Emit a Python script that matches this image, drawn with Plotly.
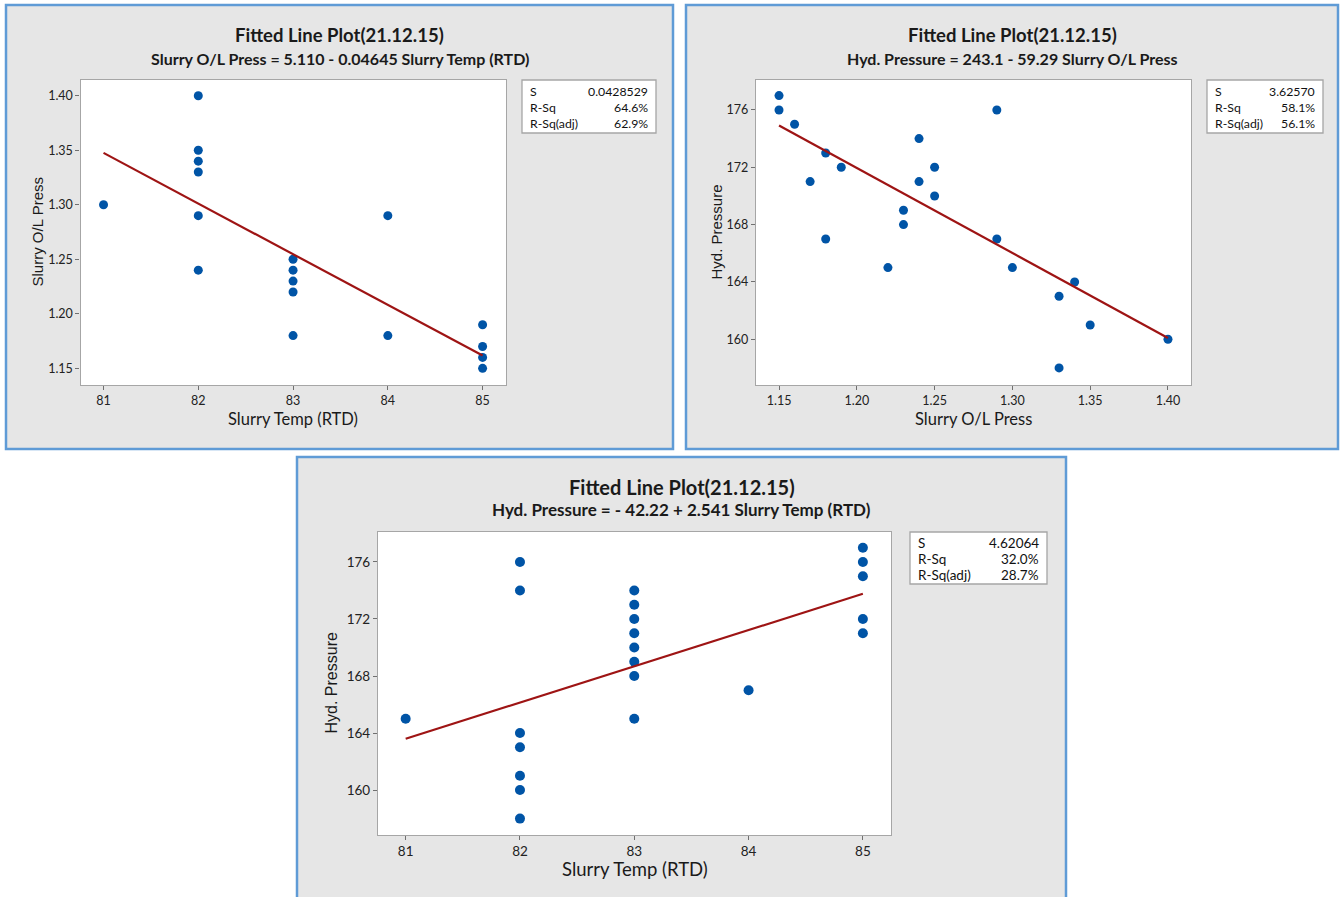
import plotly.graph_objects as go
import numpy as np

W, H = 1340, 897

# ---------------- data ----------------
# Panel 1: Slurry Temp (RTD) vs Slurry O/L Press
temp_a = [81, 82, 82, 82, 82, 82, 82, 83, 83, 83, 83, 83, 84, 84, 85, 85, 85, 85]
press_a = [1.30, 1.40, 1.35, 1.34, 1.33, 1.29, 1.24, 1.25, 1.24, 1.23, 1.22, 1.18,
           1.29, 1.18, 1.19, 1.17, 1.16, 1.15]
fit_a = (5.110, -0.04645)
stats_a = ["0.0428529", "64.6%", "62.9%"]
title_a = "Fitted Line Plot(21.12.15)"
sub_a = "Slurry O/L Press = 5.110 - 0.04645 Slurry Temp (RTD)"

# Panel 2: Slurry O/L Press vs Hyd. Pressure
press_b = [1.15, 1.15, 1.16, 1.17, 1.18, 1.18, 1.19, 1.22, 1.23, 1.23, 1.24, 1.24,
           1.25, 1.25, 1.29, 1.29, 1.30, 1.33, 1.33, 1.34, 1.35, 1.40]
hyd_b = [177, 176, 175, 171, 173, 167, 172, 165, 169, 168, 174, 171,
         172, 170, 176, 167, 165, 163, 158, 164, 161, 160]
fit_b = (243.1, -59.29)
stats_b = ["3.62570", "58.1%", "56.1%"]
title_b = "Fitted Line Plot(21.12.15)"
sub_b = "Hyd. Pressure = 243.1 - 59.29 Slurry O/L Press"

# Panel 3: Slurry Temp (RTD) vs Hyd. Pressure
temp_c = [81, 82, 82, 82, 82, 82, 82, 82, 83, 83, 83, 83, 83, 83, 83, 83,
          84, 85, 85, 85, 85, 85]
hyd_c = [165, 176, 174, 164, 163, 161, 160, 158, 174, 173, 172, 171, 170, 169, 168, 165,
         167, 177, 176, 175, 172, 171]
fit_c = (-42.22, 2.541)
stats_c = ["4.62064", "32.0%", "28.7%"]
title_c = "Fitted Line Plot(21.12.15)"
sub_c = "Hyd. Pressure = - 42.22 + 2.541 Slurry Temp (RTD)"

stat_names = ["S", "R-Sq", "R-Sq(adj)"]
temp_ticks = [81, 82, 83, 84, 85]
press_ticks = [1.15, 1.20, 1.25, 1.30, 1.35, 1.40]
hyd_ticks = [160, 164, 168, 172, 176]

# ---------------- layout helpers ----------------
FONT = "Lato"
BLUE = "#0054a6"
RED = "#9e1414"
PANEL_BG = "#e6e6e6"
BORDER = "#5f9bd6"
GRID = "#a6a6a6"

def px(x):
    return x / W

def py(y):
    return 1 - y / H

panels = [
    dict(x=temp_a, y=press_a, fit=fit_a, stats=stats_a, title=title_a, sub=sub_a,
         xlab="Slurry Temp (RTD)", ylab="Slurry O/L Press",
         xticks=temp_ticks, yticks=press_ticks, xfmt=None, yfmt=".2f",
         box=(6, 5, 673, 449), plot=(80.5, 80, 506, 385), sbox=(522, 80, 656, 133),
         ty=35, sy=59, xty=419, ytx=37, xr=[80.757, 85.247], yr=[1.1347, 1.4144],
         tfs=18.5, sfs=16, afs=16.5, yafs=15, kfs=12.5, sts=12.3, ms=9),
    dict(x=press_b, y=hyd_b, fit=fit_b, stats=stats_b, title=title_b, sub=sub_b,
         xlab="Slurry O/L Press", ylab="Hyd. Pressure",
         xticks=press_ticks, yticks=hyd_ticks, xfmt=".2f", yfmt=None,
         box=(686, 5, 1338, 449), plot=(756, 80, 1191, 385), sbox=(1207, 80, 1323, 133),
         ty=35, sy=59, xty=419, ytx=716, xr=[1.1352, 1.4148], yr=[156.81, 178.09],
         tfs=18.5, sfs=16, afs=16.5, yafs=15, kfs=12.5, sts=12.3, ms=9),
    dict(x=temp_c, y=hyd_c, fit=fit_c, stats=stats_c, title=title_c, sub=sub_c,
         xlab="Slurry Temp (RTD)", ylab="Hyd. Pressure",
         xticks=temp_ticks, yticks=hyd_ticks, xfmt=None, yfmt=None,
         box=(297, 457, 1066, 905), plot=(378, 532, 891, 835), sbox=(910, 532, 1047, 584),
         ty=487, sy=509, xty=869, ytx=331, xr=[80.758, 85.246], yr=[156.85, 178.1],
         tfs=20, sfs=17, afs=18.5, yafs=16, kfs=13.5, sts=13.5, ms=10),
]

fig = go.Figure()
shapes = []
annotations = []

for i, p in enumerate(panels, start=1):
    sfx = "" if i == 1 else str(i)
    L, T, R, B = p["plot"]
    fig.add_trace(go.Scatter(
        x=p["x"], y=p["y"], mode="markers",
        marker=dict(color=BLUE, size=p["ms"], line=dict(width=0)),
        xaxis="x" + sfx, yaxis="y" + sfx, showlegend=False, hoverinfo="x+y"))
    xs = np.array([min(p["x"]), max(p["x"])], dtype=float)
    b0, b1 = p["fit"]
    fig.add_trace(go.Scatter(
        x=xs, y=b0 + b1 * xs, mode="lines",
        line=dict(color=RED, width=2.2),
        xaxis="x" + sfx, yaxis="y" + sfx, showlegend=False, hoverinfo="skip"))

    axcommon = dict(showgrid=False, zeroline=False, showline=True, mirror=True,
                    linecolor=GRID, linewidth=1.3, ticks="outside", ticklen=4,
                    tickcolor="#707070", tickwidth=1,
                    tickfont=dict(family=FONT, size=p["kfs"], color="#222222"))
    fig.update_layout(**{
        "xaxis" + sfx: dict(domain=[px(L), px(R)], range=p["xr"], tickvals=p["xticks"],
                            tickformat=p["xfmt"], anchor="y" + sfx, **axcommon),
        "yaxis" + sfx: dict(domain=[py(B), py(T)], range=p["yr"], tickvals=p["yticks"],
                            tickformat=p["yfmt"], anchor="x" + sfx, **axcommon),
    })

    bx0, by0, bx1, by1 = p["box"]
    shapes.append(dict(type="rect", xref="paper", yref="paper", layer="below",
                       x0=px(bx0), x1=px(bx1), y0=py(by1), y1=py(by0),
                       fillcolor=PANEL_BG, line=dict(color=BORDER, width=2.5)))
    shapes.append(dict(type="rect", xref="paper", yref="paper", layer="below",
                       x0=px(L), x1=px(R), y0=py(B), y1=py(T),
                       fillcolor="white", line=dict(width=0)))
    sx0, sy0, sx1, sy1 = p["sbox"]
    shapes.append(dict(type="rect", xref="paper", yref="paper", layer="above",
                       x0=px(sx0), x1=px(sx1), y0=py(sy1), y1=py(sy0),
                       fillcolor="white", line=dict(color=GRID, width=1.3)))
    rowh = (sy1 - sy0) / 3.3
    for k, (nm, val) in enumerate(zip(stat_names, p["stats"])):
        yy = sy0 + rowh * (k + 0.65) + 1
        annotations.append(dict(xref="paper", yref="paper", x=px(sx0 + 6), y=py(yy),
                                text=nm, showarrow=False, xanchor="left", yanchor="middle",
                                font=dict(family=FONT, size=p["sts"], color="#111111")))
        annotations.append(dict(xref="paper", yref="paper", x=px(sx1 - 6), y=py(yy),
                                text=val, showarrow=False, xanchor="right", yanchor="middle",
                                font=dict(family=FONT, size=p["sts"], color="#111111")))

    cx = (bx0 + bx1) / 2
    annotations.append(dict(xref="paper", yref="paper", x=px(cx), y=py(p["ty"]),
                            text="<b>" + p["title"] + "</b>", showarrow=False,
                            xanchor="center", yanchor="middle",
                            font=dict(family=FONT, size=p["tfs"], color="#1a1a1a")))
    annotations.append(dict(xref="paper", yref="paper", x=px(cx), y=py(p["sy"]),
                            text="<b>" + p["sub"] + "</b>", showarrow=False,
                            xanchor="center", yanchor="middle",
                            font=dict(family=FONT, size=p["sfs"], color="#1a1a1a")))
    annotations.append(dict(xref="paper", yref="paper", x=px((L + R) / 2), y=py(p["xty"]),
                            text=p["xlab"], showarrow=False, xanchor="center", yanchor="middle",
                            font=dict(family=FONT, size=p["afs"], color="#1a1a1a")))
    annotations.append(dict(xref="paper", yref="paper", x=px(p["ytx"]), y=py((T + B) / 2),
                            text=p["ylab"], showarrow=False, textangle=-90,
                            xanchor="center", yanchor="middle",
                            font=dict(family="Liberation Sans", size=p["yafs"], color="#1a1a1a")))

fig.update_layout(width=W, height=H, margin=dict(l=0, r=0, t=0, b=0),
                  paper_bgcolor="white", plot_bgcolor="rgba(0,0,0,0)",
                  shapes=shapes, annotations=annotations, showlegend=False)

fig.write_html("out.html", config={"displayModeBar": False},
               post_script="document.body.style.margin='0';document.body.style.overflow='hidden';")
